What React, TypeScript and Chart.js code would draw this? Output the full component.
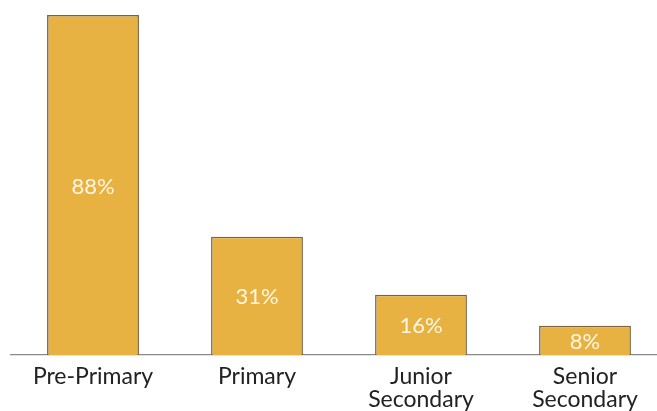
import React, { useEffect, useRef } from "react";
import { Chart, registerables } from "chart.js";

Chart.register(...registerables);

const categories: (string | string[])[] = ["Pre-Primary", "Primary", ["Junior", "Secondary"], ["Senior", "Secondary"]];
const values: number[] = [88, 30.6, 15.6, 7.6];
const valueLabels: string[] = ["88%", "31%", "16%", "8%"];

const barLabelPlugin = {
  id: "barLabels",
  afterDatasetsDraw(chart: any) {
    const ctx = chart.ctx;
    const meta = chart.getDatasetMeta(0);
    ctx.save();
    ctx.fillStyle = "#FFF6E0";
    ctx.font = "22px Lato";
    ctx.textAlign = "center";
    ctx.textBaseline = "middle";
    meta.data.forEach((bar: any, i: number) => {
      const cy = (bar.y + bar.base) / 2;
      ctx.fillText(valueLabels[i], bar.x, cy + 1.5);
    });
    ctx.restore();
  },
};

export default function App() {
  const ref = useRef<HTMLCanvasElement>(null);
  useEffect(() => {
    document.documentElement.style.overflow = "hidden";
    document.body.style.overflow = "hidden";
    document.body.style.margin = "0";
    const chart = new Chart(ref.current!, {
      type: "bar",
      data: {
        labels: categories,
        datasets: [
          {
            data: values,
            backgroundColor: "#E8B243",
            borderColor: "#7a6242",
            borderWidth: 1.5,
            categoryPercentage: 1,
            barPercentage: 0.56,
          },
        ],
      },
      options: {
        animation: false,
        responsive: false,
        layout: { padding: { left: 11, right: 3, top: 15, bottom: 0 } },
        plugins: { legend: { display: false }, tooltip: { enabled: false } },
        scales: {
          x: {
            grid: { display: false, drawTicks: false },
            border: { display: true, color: "#8a8a8a", width: 1.2 },
            ticks: {
              color: "#222222",
              font: { family: "Lato", size: 23, lineHeight: 0.96 },
              padding: 11,
              maxRotation: 0,
              autoSkip: false,
            },
            afterFit: (scale: any) => {
              scale.height = 56;
            },
          },
          y: { display: false, min: 0, max: 88 },
        },
      },
      plugins: [barLabelPlugin],
    });
    return () => chart.destroy();
  }, []);
  return (
    <div style={{ position: "fixed", left: 0, top: 0, width: 670, height: 411 }}>
      <canvas ref={ref} width={670} height={411} />
    </div>
  );
}
